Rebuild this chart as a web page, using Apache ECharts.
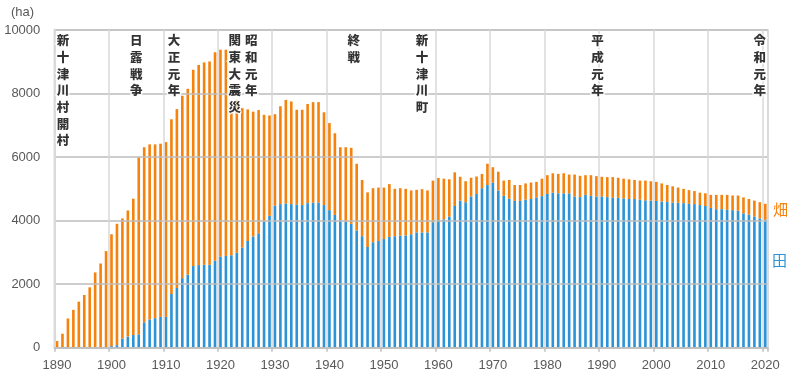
<!DOCTYPE html>
<html>
<head>
<meta charset="utf-8">
<script src="https://cdn.jsdelivr.net/npm/echarts@6/dist/echarts.min.js"></script>
<style>
html,body{margin:0;padding:0;background:#fff;}
#chart{width:800px;height:392px;}
</style>
</head>
<body>
<div id="chart"></div>
<script>
// Years 1890 .. 2020
const firstYear = 1890;
const lastYear = 2020;
const years = [];
for (let y = firstYear; y <= lastYear; y++) years.push(String(y));

// 田 (paddy fields), ha
const ta = [
  0, 0, 0, 0, 0, 0, 0, 0, 0, 0,
  50, 80, 290, 350, 400, 420, 800, 890, 930, 970,
  970, 1690, 1880, 2190, 2300, 2570, 2600, 2610, 2610, 2740,
  2870, 2890, 2910, 2990, 3150, 3360, 3500, 3600, 3970, 4150,
  4470, 4520, 4540, 4520, 4510, 4490, 4550, 4570, 4570, 4490,
  4330, 4180, 4010, 3970, 3900, 3690, 3510, 3170, 3320, 3360,
  3420, 3490, 3510, 3530, 3530, 3570, 3630, 3630, 3630, 3950,
  4020, 4040, 4130, 4460, 4630, 4580, 4760, 4840, 5020, 5120,
  5190, 4950, 4780, 4690, 4620, 4620, 4660, 4680, 4730, 4770,
  4840, 4880, 4860, 4860, 4860, 4760, 4740, 4810, 4780, 4760,
  4760, 4740, 4720, 4720, 4700, 4680, 4680, 4660, 4640, 4630,
  4620, 4600, 4590, 4570, 4560, 4550, 4530, 4520, 4490, 4460,
  4400, 4360, 4360, 4340, 4330, 4310, 4230, 4190, 4130, 4070,
  4030
];

// 畑 (upland fields), ha
const hata = [
  210, 440, 920, 1190, 1450, 1660, 1900, 2370, 2650, 3040,
  3520, 3820, 3780, 3970, 4290, 5570, 5510, 5510, 5470, 5450,
  5500, 5500, 5630, 5740, 5850, 6180, 6300, 6370, 6400, 6560,
  6510, 6490, 4480, 4810, 4390, 4140, 3930, 3880, 3360, 3160,
  2880, 3080, 3260, 3230, 2980, 3000, 3120, 3160, 3160, 2920,
  2740, 2570, 2300, 2340, 2390, 2100, 1770, 1720, 1700, 1680,
  1620, 1660, 1490, 1490, 1470, 1380, 1340, 1360, 1320, 1310,
  1320, 1280, 1170, 1060, 750, 660, 590, 550, 450, 670,
  490, 590, 480, 590, 500, 500, 510, 520, 490, 550,
  590, 610, 610, 630, 590, 690, 670, 620, 650, 640,
  620, 630, 650, 630, 620, 620, 600, 600, 620, 610,
  600, 570, 530, 510, 480, 450, 430, 410, 390, 400,
  410, 450, 450, 470, 460, 480, 500, 490, 500, 510,
  500
];

// Event annotations
const eventYears = ['1890', '1904', '1912', '1923', '1926', '1945', '1957', '1989', '2019'];
const eventLabels = ['新十津川村開村', '日露戦争', '大正元年', '関東大震災', '昭和元年', '終戦', '新十津川町', '平成元年', '令和元年'];

// y-axis ticks
const yTicks = [0, 2000, 4000, 6000, 8000, 10000];

// layout-only horizontal nudges of the annotation text (px)
const eventNudge = [6, 3, -3, -2, -2, -3, 0, 1, 0];

const ORANGE = '#F5820D';
const BLUE = '#2B93D6';
const chart = echarts.init(document.getElementById('chart'), null, {renderer: 'canvas'});

const eventData = eventYears.map((y, i) => ({
  value: [y, yTicks[yTicks.length - 1]],
  label: { offset: [eventNudge[i], 0] },
  name: eventLabels[i]
}));

chart.setOption({
  animation: false,
  textStyle: { fontFamily: 'Liberation Sans, Noto Sans CJK JP, sans-serif' },
  grid: {
    left: 54.3, right: 32, top: 30, bottom: 44.3,
    show: true, borderColor: '#d9d9d9', borderWidth: 1.5, backgroundColor: 'transparent'
  },
  xAxis: {
    type: 'category',
    data: years,
    boundaryGap: true,
    z: 3,
    axisLine: { show: true, lineStyle: { color: '#bfbfbf', width: 1.5 } },
    axisTick: { show: true, interval: 9, length: 4, lineStyle: { color: '#bfbfbf', width: 1.5 } },
    axisLabel: { interval: 9, color: '#595959', fontSize: 13, margin: 11 },
    splitLine: { show: true, interval: 9, lineStyle: { color: '#d9d9d9', width: 1.5 } }
  },
  yAxis: {
    type: 'value',
    min: yTicks[0],
    max: yTicks[yTicks.length - 1],
    interval: 2000,
    z: 3,
    axisLine: { show: true, lineStyle: { color: '#d9d9d9', width: 1.5 } },
    axisTick: { show: false },
    axisLabel: { color: '#595959', fontSize: 13, margin: 14, formatter: v => String(v) },
    splitLine: { show: true, lineStyle: { color: '#bcbcbc', width: 1.5 } }
  },
  series: [
    {
      name: '田', type: 'bar', stack: 'area', data: ta,
      barWidth: '48%', itemStyle: { color: BLUE }, z: 2
    },
    {
      name: '畑', type: 'bar', stack: 'area', data: hata,
      barWidth: '48%', itemStyle: { color: ORANGE }, z: 2
    },
    {
      name: 'events', type: 'scatter', data: eventData,
      symbolSize: 0, z: 10, silent: true,
      label: {
        show: true,
        position: 'bottom',
        distance: 2,
        align: 'center',
        verticalAlign: 'top',
        formatter: p => p.name.split('').join('\n'),
        fontFamily: 'Noto Sans CJK JP',
        fontWeight: 900,
        fontSize: 12.5,
        lineHeight: 16.7,
        color: '#000',
        textBorderColor: '#fff',
        textBorderWidth: 3
      }
    }
  ],
  graphic: [
    { type: 'text', left: 11, top: 6,
      style: { text: '(ha)', fontSize: 13, fill: '#595959', fontFamily: 'Liberation Sans' } },
    { type: 'text', left: 773, top: 202,
      style: { text: '畑', fontSize: 15, fill: ORANGE, fontFamily: 'Noto Sans CJK JP' } },
    { type: 'text', left: 772, top: 253,
      style: { text: '田', fontSize: 15, fill: BLUE, fontFamily: 'Noto Sans CJK JP' } }
  ]
});
</script>
</body>
</html>
